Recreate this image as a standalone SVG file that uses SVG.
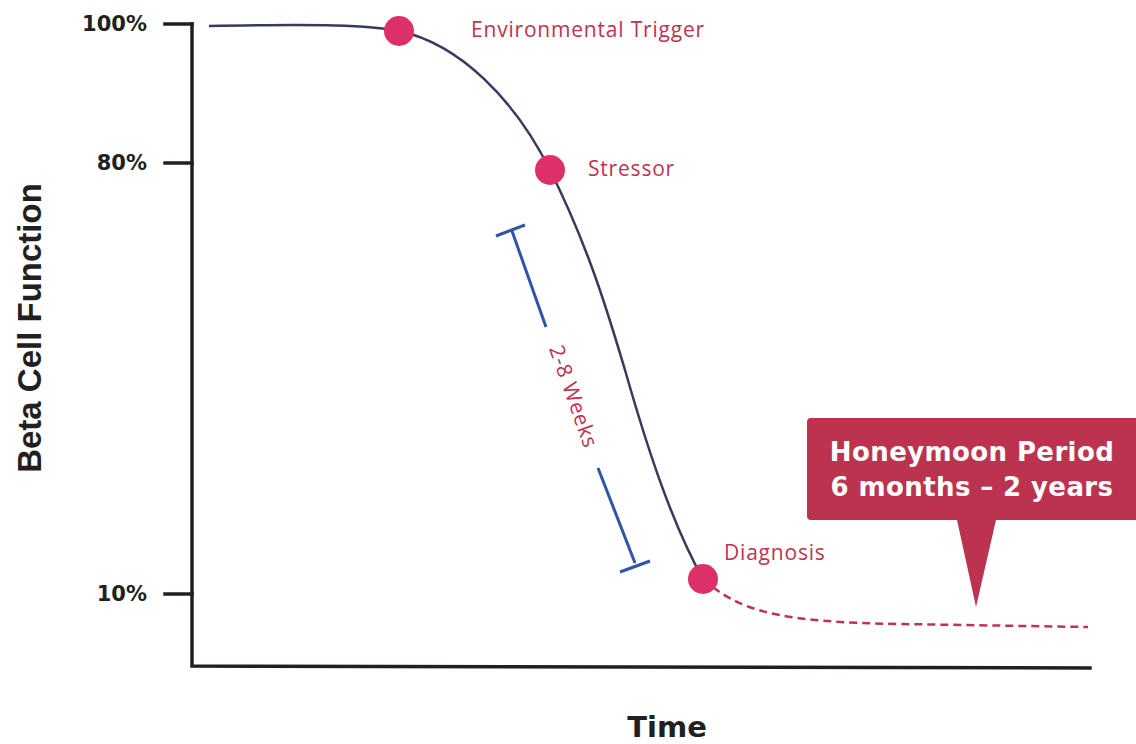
<svg xmlns="http://www.w3.org/2000/svg" width="1136" height="744" viewBox="0 0 1136 744">
<style>
.axis{stroke:#231f20;stroke-width:3.5;fill:none;stroke-linecap:square}
.tick{font-family:"DejaVu Sans",sans-serif;font-weight:bold;font-size:21px;fill:#231f20;text-anchor:end}
.title{font-weight:bold;fill:#231f20;text-anchor:middle}
.lbl{font-family:"Open Sans","Noto Sans",sans-serif;font-size:21px;letter-spacing:0.8px;fill:#be3350}
.dot{fill:#dd3068}
.bracket{stroke:#2f54a8;stroke-width:3;fill:none}
.call{font-family:"DejaVu Sans",sans-serif;font-weight:bold;font-size:26px;letter-spacing:0.4px;fill:#ffffff;text-anchor:middle}
</style>
<rect width="1136" height="744" fill="#ffffff"/>
<g id="axes">
<path class="axis" d="M192,24 L192,666 L1090,668"/>
<path class="axis" d="M165,24 L192,24 M165,163 L192,163 M165,594 L192,594"/>
<text class="tick" x="147" y="31">100%</text>
<text class="tick" x="147" y="170">80%</text>
<text class="tick" x="147" y="601">10%</text>
<text class="title" x="667" y="737" font-size="29" font-family="DejaVu Sans, sans-serif">Time</text>
<text class="title" font-size="33" font-family="Liberation Sans, Arial, sans-serif" transform="translate(41,328) rotate(-90)">Beta Cell Function</text>
</g>
<g id="connectors">
<path d="M209,26 C320,24 370,25 399,31 C460,44 515,100 550,170 C590,250 610,320 625,370 C645,440 670,520 703,579" fill="none" stroke="#363a5c" stroke-width="2.5"/>
<path d="M703,579 C740,612 780,622 900,624 L1088,627" fill="none" stroke="#be3350" stroke-width="2.5" stroke-dasharray="8 5"/>
</g>
<g id="bracket">
<path class="bracket" d="M496,236 L525,225 M512,231 L546,327 M598,468 L635,563 M620,572 L650,561"/>
<text class="lbl" transform="translate(572,397) rotate(70.5)" text-anchor="middle" dominant-baseline="middle">2-8 Weeks</text>
</g>
<g id="env-trigger">
<circle class="dot" cx="399" cy="31" r="15"/>
<text class="lbl" x="471" y="37">Environmental Trigger</text>
</g>
<g id="stressor">
<circle class="dot" cx="550" cy="170" r="15"/>
<text class="lbl" x="588" y="176">Stressor</text>
</g>
<g id="diagnosis">
<circle class="dot" cx="703" cy="579" r="15"/>
<text class="lbl" x="724" y="560">Diagnosis</text>
</g>
<g id="honeymoon">
<path d="M811,418 L1136,418 L1136,520 L996,520 L976,607 L957,520 L811,520 Q807,520 807,516 L807,422 Q807,418 811,418 Z" fill="#bc3350"/>
<text class="call" x="972" y="461">Honeymoon Period</text>
<text class="call" x="972" y="496">6 months – 2 years</text>
</g>
</svg>
